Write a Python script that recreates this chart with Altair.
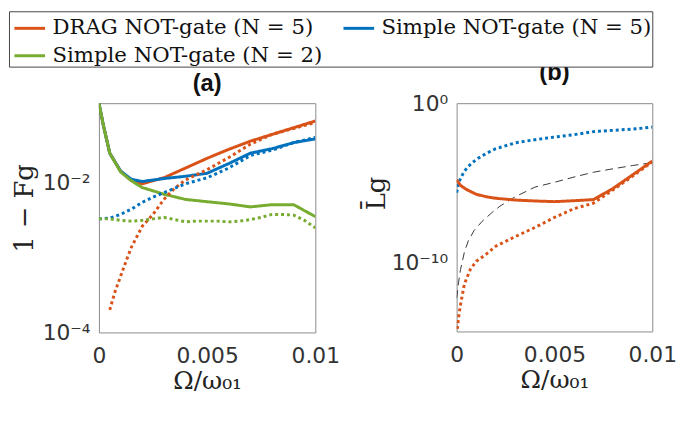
import altair as alt
import pandas as pd

SERIES = ["DRAG NOT-gate (N = 5)", "Simple NOT-gate (N = 5)", "Simple NOT-gate (N = 2)"]
COLORS = ["#D95319", "#0072BD", "#77AC30"]

# ---------------- panel (a): 1 - F_g ----------------
a_solid_x = [0, 0.0002, 0.0005, 0.001, 0.0015, 0.002, 0.003, 0.004, 0.005, 0.006, 0.007, 0.008, 0.009, 0.01]
a_drag5_solid = [0.1175, 0.0603, 0.0251, 0.01445, 0.01072, 0.00977, 0.01175, 0.01585, 0.0214, 0.0282, 0.0363, 0.0447, 0.055, 0.0676]
a_simple5_solid = [0.1175, 0.0603, 0.0251, 0.01445, 0.01122, 0.01047, 0.01148, 0.0123, 0.0135, 0.0182, 0.0251, 0.0288, 0.0347, 0.0389]
a_simple2_solid = [0.1175, 0.0603, 0.0251, 0.0141, 0.01072, 0.0087, 0.00708, 0.00603, 0.00562, 0.00525, 0.00479, 0.00513, 0.00513, 0.00355]

a_drag5_dot_x = [0.0005, 0.00075, 0.001, 0.00125, 0.0015, 0.002, 0.0025, 0.003, 0.0035, 0.004, 0.005, 0.006, 0.007, 0.008, 0.009, 0.01]
a_drag5_dot = [0.0002, 0.000355, 0.000562, 0.000891, 0.00138, 0.00263, 0.0038, 0.00603, 0.00851, 0.01096, 0.0151, 0.0219, 0.0331, 0.0447, 0.0537, 0.0646]

a_simple5_dot_x = [0, 0.0005, 0.001, 0.0015, 0.002, 0.0025, 0.003, 0.0035, 0.004, 0.005, 0.006, 0.007, 0.008, 0.009, 0.01]
a_simple5_dot = [0.00331, 0.00339, 0.0038, 0.00447, 0.0055, 0.00646, 0.00741, 0.00851, 0.00977, 0.01175, 0.01585, 0.0234, 0.0275, 0.0347, 0.0407]

a_simple2_dot_x = [0, 0.0005, 0.001, 0.0015, 0.002, 0.0025, 0.003, 0.0035, 0.004, 0.0045, 0.005,
                   0.0055, 0.006, 0.0065, 0.007, 0.0075, 0.008, 0.0085, 0.009, 0.0095, 0.01]
a_simple2_dot = [0.00331, 0.00331, 0.00316, 0.00309, 0.00316, 0.00331, 0.00347, 0.00324, 0.00302, 0.00309, 0.00309,
                 0.00309, 0.00302, 0.00309, 0.00324, 0.00347, 0.0038, 0.0038, 0.00372, 0.00316, 0.00251]

# ---------------- panel (b): L_g ----------------
b_simple5_dot_x = [0, 0.0001, 0.0002, 0.0004, 0.0006, 0.001, 0.0015, 0.002, 0.003, 0.004, 0.005, 0.006, 0.007, 0.008, 0.009, 0.01]
b_simple5_dot = [2.5e-6, 1e-5, 2e-5, 5.6e-5, 1.12e-4, 3.0e-4, 7.1e-4, 1.41e-3, 3.3e-3, 5.2e-3, 7.6e-3, 1.07e-2, 1.66e-2, 2.0e-2, 2.4e-2, 3.16e-2]

b_drag5_solid_x = [0, 0.0002, 0.0005, 0.001, 0.0015, 0.002, 0.003, 0.004, 0.005, 0.006, 0.007, 0.008, 0.009, 0.01]
b_drag5_solid = [1.58e-5, 7.1e-6, 4.0e-6, 2.0e-6, 1.41e-6, 1.12e-6, 8.7e-7, 7.6e-7, 6.9e-7, 7.9e-7, 9.3e-7, 4.7e-6, 3.3e-5, 2.4e-4]

b_drag5_dot_x = [0, 0.0001, 0.0002, 0.0004, 0.0007, 0.001, 0.0015, 0.002, 0.003, 0.004, 0.005, 0.006, 0.007, 0.008, 0.009, 0.01]
b_drag5_dot = [3.2e-15, 4.0e-14, 2.5e-13, 5.0e-12, 4.0e-11, 1.26e-10, 3.5e-10, 1.12e-9, 4.5e-9, 1.66e-8, 7.1e-8, 2.5e-7, 5.6e-7, 3.8e-6, 2.75e-5, 2.1e-4]

b_ref_x = [0, 0.0001, 0.0002, 0.0004, 0.0006, 0.0009, 0.0013, 0.0018, 0.0022, 0.003, 0.004, 0.005, 0.006, 0.007, 0.008, 0.009, 0.01]
b_ref = [6.3e-13, 6.3e-12, 4.0e-11, 5.0e-10, 2.5e-9, 1.12e-8, 4.0e-8, 1.41e-7, 3.5e-7, 1.41e-6, 5.6e-6, 1.12e-5, 2.4e-5, 4.8e-5, 7.9e-5, 1.26e-4, 1.9e-4]


def frame(xs, ys, series, style):
    return pd.DataFrame({"x": xs, "y": ys, "series": series, "style": style})


df_a = pd.concat([
    frame(a_solid_x, a_drag5_solid, SERIES[0], "solid"),
    frame(a_solid_x, a_simple5_solid, SERIES[1], "solid"),
    frame(a_solid_x, a_simple2_solid, SERIES[2], "solid"),
    frame(a_drag5_dot_x, a_drag5_dot, SERIES[0], "dotted"),
    frame(a_simple5_dot_x, a_simple5_dot, SERIES[1], "dotted"),
    frame(a_simple2_dot_x, a_simple2_dot, SERIES[2], "dotted"),
])
df_b = pd.concat([
    frame(b_simple5_dot_x, b_simple5_dot, SERIES[1], "dotted"),
    frame(b_drag5_solid_x, b_drag5_solid, SERIES[0], "solid"),
    frame(b_drag5_dot_x, b_drag5_dot, SERIES[0], "dotted"),
])
df_ref = pd.DataFrame({"x": b_ref_x, "y": b_ref})

color = alt.Color(
    "series:N", scale=alt.Scale(domain=SERIES, range=COLORS), title=None,
    legend=alt.Legend(orient="none", legendX=-91, legendY=-93, direction="horizontal", columns=2, offset=0),
)
dash = alt.StrokeDash("style:N", scale=alt.Scale(domain=["solid", "dotted"], range=[[1, 0], [3, 3]]), legend=None)

XLAB = "Ω/ω₀₁"


def x_enc(width):
    return alt.X("x:Q", scale=alt.Scale(domain=[0, 0.01], nice=False),
                 axis=alt.Axis(values=[0, 0.005, 0.01], format="~g", labelFlush=False, labelPadding=13,
                               title=XLAB, titleX=width / 2, titleY=57, titleBaseline="alphabetic",
                               titleFontSize=25))


WA, HA = 219, 232
WB, HB = 198, 231

ya = alt.Y("y:Q", scale=alt.Scale(type="log", domain=[1e-4, 0.117], nice=False),
           axis=alt.Axis(values=[1e-4, 1e-2], labelPadding=9,
                         labelExpr="datum.value < 0.001 ? '10⁻⁴' : '10⁻²'",
                         title="1 − Fg", titleX=-75, titleY=106, titleBaseline="middle"))
panel_a = alt.Chart(df_a).mark_line(strokeWidth=3, clip=True, strokeCap="butt").encode(
    x=x_enc(WA), y=ya, color=color, strokeDash=dash, detail="style:N"
).properties(width=WA, height=HA, title="(a)")

yb = alt.Y("y:Q", scale=alt.Scale(type="log", domain=[5.2e-15, 1], nice=False),
           axis=alt.Axis(values=[1, 1e-10], labelPadding=9,
                         labelExpr="datum.value > 0.5 ? '10⁰' : '10⁻¹⁰'",
                         title="L̄g", titleX=-81, titleY=91, titleBaseline="middle"))
lines_b = alt.Chart(df_b).mark_line(strokeWidth=3, clip=True, strokeCap="butt").encode(
    x=x_enc(WB), y=yb, color=color, strokeDash=dash, detail="style:N"
)
ref_b = alt.Chart(df_ref).mark_line(strokeWidth=0.9, color="#222222", strokeDash=[8, 5], clip=True).encode(
    x="x:Q", y="y:Q"
)
panel_b = alt.layer(ref_b, lines_b).properties(width=WB, height=HB, title="(b)")

chart = alt.hconcat(panel_a, panel_b, spacing=23).properties(padding=0).configure_view(
    stroke="#8a8a8a", strokeWidth=1
).configure_axis(
    domain=False, ticks=False, tickSize=0, grid=False,
    labelFont="DejaVu Sans", labelFontSize=22, labelColor="#333333",
    titleFont="DejaVu Serif", titleFontSize=26, titleFontWeight="normal", titleColor="#222222",
).configure_title(
    font="Liberation Sans", fontSize=24, fontWeight="bold", color="#111111", offset=7, anchor="middle"
).configure_legend(
    symbolType="stroke", symbolSize=961, symbolOffset=4,
    symbolStrokeWidth=3, labelFont="DejaVu Serif", labelFontSize=21.5, labelColor="#111111",
    labelLimit=600, strokeColor="#444444", fillColor="white", padding=0, columnPadding=14,
    rowPadding=0, labelOffset=6
)

chart.save("out.html", embed_options={"renderer": "svg", "actions": False})
